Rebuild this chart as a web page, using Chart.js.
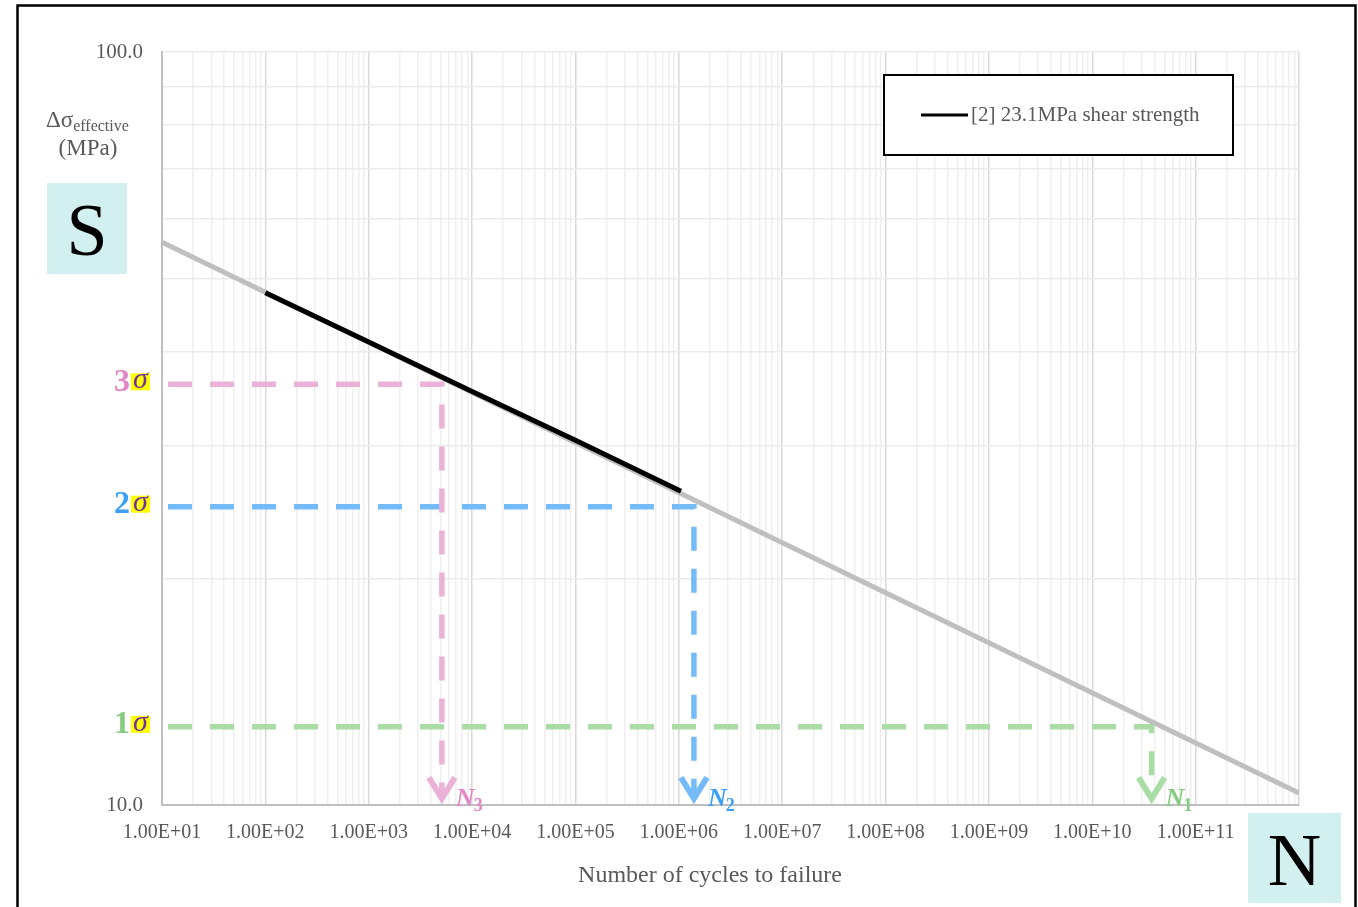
<!DOCTYPE html>
<html><head><meta charset="utf-8">
<script src="https://cdn.jsdelivr.net/npm/chart.js@4/dist/chart.umd.min.js"></script>
<style>html,body{margin:0;padding:0;background:#fff;}#wrap{width:1358px;height:907px;position:relative;}canvas{display:block;}</style>
</head><body><div id="wrap"><canvas id="c" width="1358" height="907"></canvas></div>
<script>
// ---- data ----
const curveCycles = [1e1, 1e12];
const curveStress = [55.9, 10.37];
const testCycles = [1e2, 1e3, 1e4, 1e5, 1.05e6];
const testStress = [47.9, 41.2, 35.4, 30.5, 26.1];
const sigmaNames = ['3', '2', '1'];
const sigmaStress = [36.2, 24.9, 12.7];
const sigmaCycles = [5.1e3, 1.4e6, 3.75e10];
const nNames = ['3', '2', '1'];
const arrowEndStress = 10.2;
const xTickValues = [1e1,1e2,1e3,1e4,1e5,1e6,1e7,1e8,1e9,1e10,1e11];
const xTickLabels = ['1.00E+01','1.00E+02','1.00E+03','1.00E+04','1.00E+05','1.00E+06','1.00E+07','1.00E+08','1.00E+09','1.00E+10','1.00E+11'];
const yTickValues = [10, 100];
const yTickLabels = ['10.0', '100.0'];
const legendLabel = '[2] 23.1MPa shear strength';
const xTitle = 'Number of cycles to failure';

// ---- styles ----
const sigmaLineColors = ['#eab2d7', '#75bbf8', '#aadca6'];
const sigmaTextColors = ['#e286c6', '#3a9ff5', '#86cc80'];
const serif = "'Liberation Serif', 'Times New Roman', serif";

function sameVal(a, b) { return Math.abs(Math.log10(a) - Math.log10(b)) < 1e-6; }

const sigmaDatasets = sigmaStress.map((s, i) => ({
  label: 'sigma' + sigmaNames[i],
  data: [{x: 10, y: s}, {x: sigmaCycles[i], y: s}, {x: sigmaCycles[i], y: arrowEndStress}],
  borderColor: sigmaLineColors[i],
  borderWidth: 5.5,
  borderDash: [24, 18],
  borderDashOffset: 36,
  borderCapStyle: 'butt',
  pointRadius: 0,
  fill: false,
  order: 3
}));

const overlay = {
  id: 'overlay',
  afterDraw(chart) {
    const ctx = chart.ctx;
    const xs = chart.scales.x, ys = chart.scales.y;
    ctx.save();
    // arrows and N labels
    sigmaCycles.forEach((c, i) => {
      const px = xs.getPixelForValue(c);
      const py = ys.getPixelForValue(arrowEndStress);
      ctx.strokeStyle = sigmaLineColors[i];
      ctx.lineWidth = 6;
      ctx.lineJoin = 'miter';
      ctx.lineCap = 'butt';
      ctx.beginPath();
      ctx.moveTo(px - 13, py - 21);
      ctx.lineTo(px, py);
      ctx.lineTo(px + 13, py - 21);
      ctx.stroke();
      ctx.fillStyle = sigmaTextColors[i];
      ctx.textAlign = 'left';
      ctx.textBaseline = 'alphabetic';
      ctx.font = "italic bold 26px " + serif;
      ctx.fillText('N', px + 14, 806);
      const w = ctx.measureText('N').width;
      ctx.font = "bold 18px " + serif;
      ctx.fillText(nNames[i], px + 13 + w, 811);
    });
    // sigma labels
    sigmaStress.forEach((s, i) => {
      const py = ys.getPixelForValue(s) - 3;
      ctx.fillStyle = sigmaTextColors[i];
      ctx.font = "bold 32px " + serif;
      ctx.textAlign = 'right';
      ctx.textBaseline = 'middle';
      ctx.fillText(sigmaNames[i], 130, py + 1);
      ctx.fillStyle = '#ffff00';
      ctx.fillRect(131, py - 8, 19, 17);
      ctx.fillStyle = '#7030a0';
      ctx.font = "italic 30px " + serif;
      ctx.textAlign = 'center';
      ctx.fillText('σ', 140.5, py - 1);
    });
    // y axis title
    ctx.fillStyle = '#595959';
    ctx.textAlign = 'left';
    ctx.textBaseline = 'alphabetic';
    ctx.font = "23px " + serif;
    ctx.fillText('Δσ', 46, 127);
    const dw = ctx.measureText('Δσ').width;
    ctx.font = "16px " + serif;
    ctx.fillText('effective', 46 + dw, 131);
    ctx.font = "23px " + serif;
    ctx.textAlign = 'center';
    ctx.fillText('(MPa)', 88, 155);
    // x title
    ctx.font = "24px " + serif;
    ctx.textBaseline = 'middle';
    ctx.fillText(xTitle, 710, 876);
    // legend box
    ctx.fillStyle = '#ffffff';
    ctx.fillRect(884, 75, 349, 80);
    ctx.strokeStyle = '#000000';
    ctx.lineWidth = 2;
    ctx.strokeRect(884, 75, 349, 80);
    ctx.lineWidth = 3;
    ctx.beginPath();
    ctx.moveTo(921, 115);
    ctx.lineTo(968, 115);
    ctx.stroke();
    ctx.fillStyle = '#595959';
    ctx.font = "21px " + serif;
    ctx.textAlign = 'left';
    ctx.textBaseline = 'middle';
    ctx.fillText(legendLabel, 971, 115);
    // S and N boxes
    ctx.fillStyle = '#d3f0f0';
    ctx.fillRect(47, 183, 80, 91);
    ctx.fillRect(1248, 813, 93, 90);
    ctx.fillStyle = '#000000';
    ctx.font = "74px " + serif;
    ctx.textAlign = 'center';
    ctx.textBaseline = 'alphabetic';
    ctx.fillText('S', 87, 255);
    ctx.fillText('N', 1294.5, 885);
    // outer frame
    ctx.strokeStyle = '#000000';
    ctx.lineWidth = 2.5;
    ctx.strokeRect(17.5, 5.5, 1338, 915);
    ctx.restore();
  }
};

new Chart(document.getElementById('c'), {
  type: 'line',
  data: {
    datasets: [
      {
        label: legendLabel,
        data: testCycles.map((c, i) => ({x: c, y: testStress[i]})),
        borderColor: '#000000',
        borderWidth: 5,
        pointRadius: 0,
        fill: false,
        order: 1
      },
      {
        label: 'curve',
        data: curveCycles.map((c, i) => ({x: c, y: curveStress[i]})),
        borderColor: '#bfbfbf',
        borderWidth: 5,
        borderCapStyle: 'butt',
        pointRadius: 0,
        fill: false,
        order: 2
      },
      ...sigmaDatasets
    ]
  },
  options: {
    responsive: false,
    animation: false,
    devicePixelRatio: 1,
    layout: {padding: {top: 52, right: 59, left: 0, bottom: 0}},
    plugins: {legend: {display: false}, tooltip: {enabled: false}},
    elements: {line: {tension: 0}},
    scales: {
      x: {
        type: 'logarithmic',
        min: 10, max: 1e12,
        afterBuildTicks(scale) {
          const t = [];
          for (let e = 1; e <= 11; e++) for (let m = 1; m <= 9; m++) t.push({value: m * Math.pow(10, e)});
          t.push({value: 1e12});
          scale.ticks = t;
        },
        afterFit(scale) { scale.height = 102; },
        ticks: {
          autoSkip: false, maxRotation: 0, minRotation: 0, padding: 16,
          color: '#595959', font: {family: serif, size: 20},
          callback(v) { const i = xTickValues.findIndex(t => sameVal(t, v)); return i >= 0 ? xTickLabels[i] : ''; }
        },
        grid: {
          drawTicks: false,
          lineWidth: 1.5,
          color(ctx) {
            const v = ctx.tick && ctx.tick.value;
            if (!v) return '#eeeeee';
            const l = Math.log10(v);
            return Math.abs(l - Math.round(l)) < 1e-6 ? '#d9d9d9' : '#efefef';
          }
        },
        border: {color: '#bfbfbf', width: 2}
      },
      y: {
        type: 'logarithmic',
        min: 10, max: 100,
        afterBuildTicks(scale) {
          const t = [];
          for (let m = 1; m <= 10; m++) t.push({value: m * 10});
          scale.ticks = t;
        },
        afterFit(scale) { scale.width = 162; },
        ticks: {
          autoSkip: false, padding: 19,
          color: '#595959', font: {family: serif, size: 21},
          callback(v) { const i = yTickValues.findIndex(t => sameVal(t, v)); return i >= 0 ? yTickLabels[i] : ''; }
        },
        grid: {drawTicks: false, lineWidth: 1.5, color: '#ebebeb'},
        border: {color: '#bfbfbf', width: 2}
      }
    }
  },
  plugins: [overlay]
});
</script>
</body></html>
